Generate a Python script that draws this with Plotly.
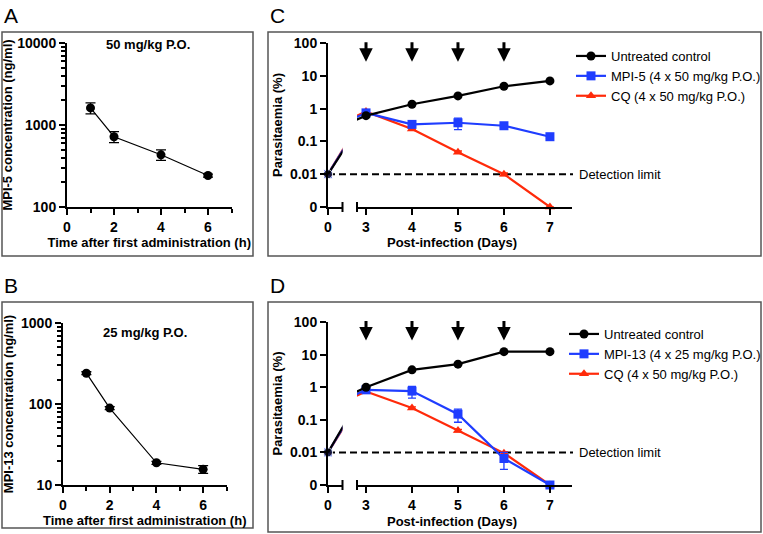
import math
import plotly.graph_objects as go

# ---------------- data ----------------
# Panel A: MPI-5 PK, 50 mg/kg P.O.
pk_time_a = [1, 2, 4, 6]
pk_conc_a = [1615, 720, 433, 242]
pk_sd_a = [250, 110, 63, 10]

# Panel B: MPI-13 PK, 25 mg/kg P.O.
pk_time_b = [1, 2, 4, 6]
pk_conc_b = [240, 89, 18.8, 15.6]
pk_sd_b = [10, 4, 0.8, 1.7]

# Panels C/D: parasitaemia (%) by post-infection day
days = [0, 3, 4, 5, 6, 7]
dosing_days = [3, 4, 5, 6]

c_untreated = [0.01, 0.61, 1.36, 2.44, 4.8, 7.0]
c_untreated_sd = [0, 0.05, 0.1, 0.2, 0.3, 0.4]
c_mpi5 = [0.01, 0.74, 0.33, 0.37, 0.30, 0.139]
c_mpi5_sd = [0, 0.08, 0.04, 0.14, 0.03, 0.015]
c_cq = [0.01, 0.81, 0.24, 0.047, 0.01, 0]
c_cq_sd = [0, 0.08, 0.02, 0.004, 0.001, 0]

d_untreated = [0.01, 1.0, 3.4, 5.1, 12.3, 12.3]
d_untreated_sd = [0, 0.08, 0.3, 0.4, 1.0, 1.0]
d_mpi13 = [0.01, 0.83, 0.76, 0.149, 0.0065, 0]
d_mpi13_sd = [0, 0.06, 0.3, 0.065, 0.0035, 0]
d_cq = [0.01, 0.74, 0.23, 0.047, 0.0095, 0]
d_cq_sd = [0, 0.06, 0.02, 0.004, 0.001, 0]

detection_limit = 0.01
zero_floor = 0.001          # value at which "0" is displayed on the log axis
para_ticks = [0.001, 0.01, 0.1, 1, 10, 100]
para_ticktext = ["0", "0.01", "0.1", "1", "10", "100"]

# ---------------- styling ----------------
W, H = 763, 534
FONT = "Liberation Sans, Arial, sans-serif"
BLACK = "#000000"
BLUE = "#1f3dff"
RED = "#ff2a0a"
BORDER = "#555555"


def px(x):
    return x / W


def py(y):
    return 1 - y / H


def floor0(vals):
    return [v if v > 0 else zero_floor for v in vals]


def err(sd):
    return [s if s > 0 else None for s in sd]


fig = go.Figure()

tickfont = dict(family=FONT, size=14, color=BLACK)
titlefont = dict(family=FONT, size=13, color=BLACK)


def axis_common():
    return dict(showline=True, linecolor=BLACK, linewidth=2, ticks="outside",
                ticklen=6, tickwidth=2, tickcolor=BLACK, showgrid=False,
                zeroline=False, tickfont=tickfont, automargin=False)


# ---------------- Panels A and B ----------------
def pk_panel(xa, ya, t, c, sd):
    fig.add_trace(go.Scatter(
        x=t, y=c, mode="lines+markers", xaxis=xa, yaxis=ya, showlegend=False,
        line=dict(color=BLACK, width=1.2),
        marker=dict(color=BLACK, size=9, symbol="circle"),
        error_y=dict(type="data", array=sd, color=BLACK, thickness=1.3, width=5),
    ))


pk_panel("x", "y", pk_time_a, pk_conc_a, pk_sd_a)
pk_panel("x2", "y2", pk_time_b, pk_conc_b, pk_sd_b)

# ---------------- Panels C and D ----------------
seg1_x = (328, 342.5)     # pixels of first x segment (day 0)
seg2_x = (357, 572)       # pixels of second x segment (days 3-7)
seg1_range = [0, 1.145]
seg2_range = [2.804, 7.48]


def para_series(xs1, xs2, ya, vals, sd, color, symbol, name, legend, rank):
    v = floor0(vals)
    line = dict(color=color, width=2.2)
    # before the axis break: day 0 point and the start of the line toward day 3
    fig.add_trace(go.Scatter(
        x=days[:2], y=v[:2], mode="lines+markers", xaxis=xs1, yaxis=ya,
        showlegend=False, cliponaxis=False, hoverinfo="skip", line=line,
        marker=dict(color=color, size=[9, 0], symbol=symbol),
    ))
    # after the axis break: end of the day 0 -> day 3 line (clipped at the break)
    fig.add_trace(go.Scatter(
        x=days[:2], y=v[:2], mode="lines", xaxis=xs2, yaxis=ya,
        showlegend=False, hoverinfo="skip", line=line,
    ))
    # after the axis break: days 3-7
    fig.add_trace(go.Scatter(
        x=days[1:], y=v[1:], mode="lines+markers", xaxis=xs2, yaxis=ya, name=name,
        legend=legend, legendrank=rank, showlegend=True, cliponaxis=False, line=line,
        marker=dict(color=color, size=9, symbol=symbol),
        error_y=dict(type="data", array=err(sd[1:]), color=color, thickness=1.3, width=4),
    ))


para_series("x3", "x4", "y3", c_cq, c_cq_sd, RED, "triangle-up", "CQ (4 x 50 mg/kg P.O.)", "legend", 3)
para_series("x3", "x4", "y3", c_mpi5, c_mpi5_sd, BLUE, "square", "MPI-5 (4 x 50 mg/kg P.O.)", "legend", 2)
para_series("x3", "x4", "y3", c_untreated, c_untreated_sd, BLACK, "circle", "Untreated control", "legend", 1)

para_series("x5", "x6", "y4", d_cq, d_cq_sd, RED, "triangle-up", "CQ (4 x 50 mg/kg P.O.)", "legend2", 3)
para_series("x5", "x6", "y4", d_mpi13, d_mpi13_sd, BLUE, "square", "MPI-13 (4 x 25 mg/kg P.O.)", "legend2", 2)
para_series("x5", "x6", "y4", d_untreated, d_untreated_sd, BLACK, "circle", "Untreated control", "legend2", 1)

# ---------------- axes ----------------
ax = axis_common()
layout = dict(
    width=W, height=H, margin=dict(l=0, r=0, t=0, b=0, autoexpand=False),
    plot_bgcolor="white", paper_bgcolor="white",
    font=dict(family=FONT, color=BLACK),
    # Panel A
    xaxis=dict(**ax, domain=[px(67), px(231.5)], range=[0, 7], anchor="y",
               tickvals=[0, 2, 4, 6], ticktext=["<b>%d</b>" % v for v in [0, 2, 4, 6]],
               minor=dict(tickvals=[1, 3, 5, 7], ticks="outside", ticklen=4, tickwidth=1.5, tickcolor=BLACK),
               title=dict(text="<b>Time after first administration (h)</b>", font=titlefont, standoff=0)),
    yaxis=dict(**ax, type="log", domain=[py(207), py(43)], range=[2, 4], anchor="x",
               tickvals=[100, 1000, 10000], ticktext=["<b>100</b>", "<b>1000</b>", "<b>10000</b>"],
               minor=dict(tickvals=[v * m for v in (100, 1000) for m in range(2, 10)],
                          ticks="outside", ticklen=4, tickwidth=1.5, tickcolor=BLACK),
               title=dict(text="<b>MPI-5 concentration (ng/ml)</b>", font=titlefont, standoff=4)),
    # Panel B
    xaxis2=dict(**ax, domain=[px(63), px(226.5)], range=[0, 7], anchor="y2",
                tickvals=[0, 2, 4, 6], ticktext=["<b>%d</b>" % v for v in [0, 2, 4, 6]],
                minor=dict(tickvals=[1, 3, 5, 7], ticks="outside", ticklen=4, tickwidth=1.5, tickcolor=BLACK),
                title=dict(text="<b>Time after first administration (h)</b>", font=titlefont, standoff=2)),
    yaxis2=dict(**ax, type="log", domain=[py(485), py(323)], range=[1, 3], anchor="x2",
                tickvals=[10, 100, 1000], ticktext=["<b>10</b>", "<b>100</b>", "<b>1000</b>"],
                minor=dict(tickvals=[v * m for v in (10, 100) for m in range(2, 10)],
                           ticks="outside", ticklen=4, tickwidth=1.5, tickcolor=BLACK),
                title=dict(text="<b>MPI-13 concentration (ng/ml)</b>", font=titlefont, standoff=4)),
)

bold_ticks = ["<b>%s</b>" % t for t in para_ticktext]
for seg1, seg2, yname, ydom in (("xaxis3", "xaxis4", "yaxis3", (207, 43)),
                                ("xaxis5", "xaxis6", "yaxis4", (485, 322))):
    ykey = "y" + yname[5:]
    layout[seg1] = dict(**ax, domain=[px(seg1_x[0]), px(seg1_x[1])], range=seg1_range,
                        anchor=ykey, tickvals=[0], ticktext=["<b>0</b>"])
    layout[seg2] = dict(**ax, domain=[px(seg2_x[0]), px(seg2_x[1])], range=seg2_range,
                        anchor=ykey, tickvals=[3, 4, 5, 6, 7],
                        ticktext=["<b>%d</b>" % d for d in [3, 4, 5, 6, 7]])
    layout[yname] = dict(**ax, type="log", domain=[py(ydom[0]), py(ydom[1])], range=[-3, 2],
                         anchor="x" + seg1[5:], tickvals=para_ticks, ticktext=bold_ticks,
                         title=dict(text="<b>Parasitaemia (%)</b>", font=titlefont, standoff=4))

legend_common = dict(font=dict(family=FONT, size=13, color=BLACK), bgcolor="rgba(0,0,0,0)",
                     itemwidth=30, traceorder="normal", tracegroupgap=0,
                     xanchor="left", yanchor="top", itemclick=False)
layout["legend"] = dict(**legend_common, x=px(571), y=py(41))
layout["legend2"] = dict(**legend_common, x=px(564), y=py(319))

fig.update_layout(**layout)

# ---------------- annotations ----------------
annos = []
for letter, (lx, ly) in {"A": (2, 2), "B": (2, 272), "C": (268, 2), "D": (268, 272)}.items():
    annos.append(dict(text=letter, x=px(lx), y=py(ly), xref="paper", yref="paper",
                      xanchor="left", yanchor="top", showarrow=False,
                      font=dict(family=FONT, size=21, color=BLACK)))
annos.append(dict(text="<b>50 mg/kg P.O.</b>", x=px(148), y=py(45), xref="paper", yref="paper",
                  xanchor="center", yanchor="middle", showarrow=False, font=titlefont))
annos.append(dict(text="<b>25 mg/kg P.O.</b>", x=px(145), y=py(332), xref="paper", yref="paper",
                  xanchor="center", yanchor="middle", showarrow=False, font=titlefont))
for ycen, ylab in ((242, 174), (521, 452)):
    annos.append(dict(text="<b>Post-infection (Days)</b>", x=px(452), y=py(ycen), xref="paper",
                      yref="paper", xanchor="center", yanchor="middle", showarrow=False,
                      font=titlefont))
    annos.append(dict(text="Detection limit", x=px(577), y=py(ylab), xref="paper", yref="paper",
                      xanchor="left", yanchor="middle", showarrow=False,
                      font=dict(family=FONT, size=13, color=BLACK)))
# dosing arrows
arrow_tip = math.log10(27)
for xa, ya in (("x4", "y3"), ("x6", "y4")):
    for d in dosing_days:
        annos.append(dict(x=d, y=arrow_tip, xref=xa, yref=ya, text="", showarrow=True,
                          ax=0, ay=-21, arrowhead=2, arrowsize=0.9, arrowwidth=3,
                          arrowcolor=BLACK))
fig.update_layout(annotations=annos)

# ---------------- shapes: panel borders, detection limit, axis breaks ----------------
shapes = []
for (x0, y0, x1, y1) in ((2, 32, 253, 256), (2, 302, 253, 528), (268, 32, 761, 256), (268, 302, 761, 532)):
    shapes.append(dict(type="rect", xref="paper", yref="paper", x0=px(x0), x1=px(x1),
                       y0=py(y1), y1=py(y0), line=dict(color=BORDER, width=1.5)))
for ya, yb in (("y3", 207), ("y4", 485)):
    shapes.append(dict(type="line", xref="paper", yref=ya, x0=px(328), x1=px(573),
                       y0=detection_limit, y1=detection_limit, layer="below",
                       line=dict(color=BLACK, width=2, dash="7px,4px")))
    for xb in (seg1_x[1], seg2_x[0]):
        shapes.append(dict(type="line", xref="paper", yref="paper", x0=px(xb), x1=px(xb),
                           y0=py(yb + 5), y1=py(yb - 5), line=dict(color=BLACK, width=2)))
fig.update_layout(shapes=shapes)

fig.write_html("out.html", config={"displayModeBar": False},
               post_script="document.body.style.margin='0';")
